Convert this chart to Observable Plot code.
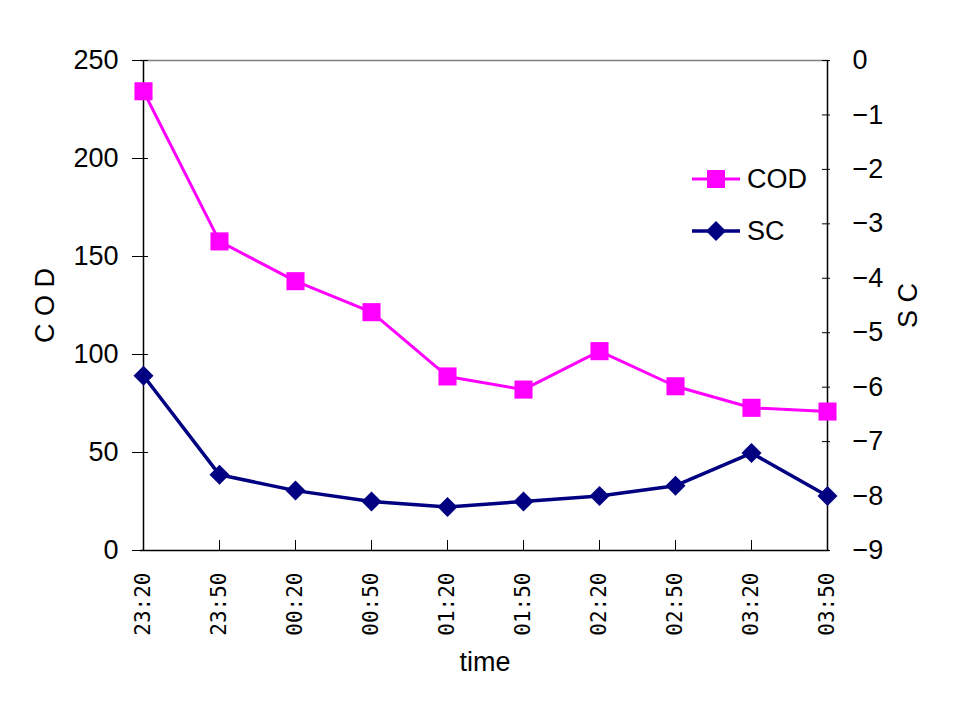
<!DOCTYPE html>
<html>
<head>
<meta charset="utf-8">
<script src="https://cdn.jsdelivr.net/npm/d3@7"></script>
<script src="https://cdn.jsdelivr.net/npm/@observablehq/plot@0.6"></script>
<style>
  html, body { margin: 0; padding: 0; background: #fff; }
  #wrap { position: relative; width: 960px; height: 720px; }
  #legend { position: absolute; left: 690px; top: 153px; font-family: "Liberation Sans", Arial, sans-serif; font-size: 27px; color: #000; }
  .item { display: flex; align-items: center; height: 52px; }
  .item svg { margin-right: 5px; }
</style>
</head>
<body>
<div id="wrap"><div id="legend"></div></div>
<script>
const times = ["23:20","23:50","00:20","00:50","01:20","01:50","02:20","02:50","03:20","03:50"];
const cod = [234.3, 157.7, 137.4, 121.6, 88.8, 82.1, 101.7, 83.8, 72.8, 70.9];
const sc = [-5.79, -7.61, -7.90, -8.10, -8.20, -8.10, -8.00, -7.81, -7.21, -8.00];
const codTicks = [0, 50, 100, 150, 200, 250];
const scTicks = [0, -1, -2, -3, -4, -5, -6, -7, -8, -9];
const codDomain = [0, 250];
const scDomain = [-9, 0];

const COD_COLOR = "#ff00ff";
const SC_COLOR = "#000080";
const sans = '"Liberation Sans", Arial, sans-serif';
const mono = '"DejaVu Sans Mono", monospace';

// map SC value onto the COD (left) scale
const scToCod = v => (v - scDomain[0]) / (scDomain[1] - scDomain[0]) * (codDomain[1] - codDomain[0]) + codDomain[0];
const codToSc = v => Math.round((v - codDomain[0]) / (codDomain[1] - codDomain[0]) * (scDomain[1] - scDomain[0]) + scDomain[0]);

const codData = times.map((t, i) => ({time: t, value: cod[i]}));
const scData = times.map((t, i) => ({time: t, value: scToCod(sc[i])}));
const scTickPos = scTicks.map(scToCod);

const fmtMinus = v => String(v).replace("-", "\u2212");

const chart = Plot.plot({
  width: 960,
  height: 720,
  marginLeft: 140,
  marginRight: 131,
  marginTop: 60,
  marginBottom: 170,
  style: {fontFamily: sans, fontSize: "27px", color: "#000", background: "transparent"},
  x: {type: "point", domain: times, padding: 0},
  y: {domain: codDomain},
  marks: [
    // frame
    Plot.ruleY([codDomain[1]], {stroke: "#808080", strokeWidth: 1.5}),
    Plot.ruleY([codDomain[0]], {stroke: "#000", strokeWidth: 1.5}),
    Plot.ruleX([times[0], times[times.length - 1]], {stroke: "#000", strokeWidth: 1.5}),
    // left axis ticks (crossing) and labels
    Plot.axisY(codTicks, {anchor: "left", tickSize: 16, dx: 8, tickFormat: () => "", label: null}),
    Plot.axisY(codTicks, {anchor: "left", tickSize: 0, tickPadding: 22, label: null, fontSize: 27, fontFamily: sans}),
    // right axis ticks (inward) and labels
    Plot.axisY(scTickPos, {anchor: "right", tickSize: 8, dx: -8, tickFormat: () => "", label: null}),
    Plot.axisY(scTickPos, {anchor: "right", tickSize: 0, tickPadding: 23, label: null, tickFormat: d => fmtMinus(codToSc(d)), fontSize: 27, fontFamily: sans}),
    // bottom ticks (inward) and rotated labels
    Plot.axisX({anchor: "bottom", tickSize: 10, dy: -10, tickFormat: () => "", label: null}),
    Plot.axisX({anchor: "bottom", tickSize: 0, tickPadding: 22, tickRotate: -90, label: null, fontSize: 21, fontFamily: mono}),
    // axis titles
    Plot.text(["C O D"], {frameAnchor: "left", textAnchor: "middle", dx: -95, rotate: -90, fontSize: 27, fontFamily: sans, fill: "#000"}),
    Plot.text(["S C"], {frameAnchor: "right", textAnchor: "middle", dx: 79, rotate: -90, fontSize: 27, fontFamily: sans, fill: "#000"}),
    Plot.text(["time"], {frameAnchor: "bottom", textAnchor: "middle", dy: 120, fontSize: 27, fontFamily: sans, fill: "#000"}),
    // series
    Plot.line(codData, {x: "time", y: "value", stroke: COD_COLOR, strokeWidth: 3}),
    Plot.dot(codData, {x: "time", y: "value", symbol: "square", r: 10.2, fill: COD_COLOR, stroke: "none"}),
    Plot.line(scData, {x: "time", y: "value", stroke: SC_COLOR, strokeWidth: 3.5}),
    Plot.dot(scData, {x: "time", y: "value", symbol: "diamond2", r: 9, fill: SC_COLOR, stroke: "none"})
  ]
});
document.getElementById("wrap").prepend(chart);

// legend
const legendItems = [
  {name: "COD", color: COD_COLOR, shape: "square"},
  {name: "SC", color: SC_COLOR, shape: "diamond"}
];
const legend = d3.select("#legend");
for (const it of legendItems) {
  const row = legend.append("div").attr("class", "item");
  const s = row.append("svg").attr("width", 52).attr("height", 30);
  s.append("line").attr("x1", 2).attr("x2", 50).attr("y1", 15).attr("y2", 15)
    .attr("stroke", it.color).attr("stroke-width", it.shape === "square" ? 3 : 3.5);
  if (it.shape === "square") {
    s.append("rect").attr("x", 17).attr("y", 6).attr("width", 18).attr("height", 18).attr("fill", it.color);
  } else {
    s.append("path").attr("d", "M26,5L36,15L26,25L16,15Z").attr("fill", it.color);
  }
  row.append("span").text(it.name);
}
</script>
</body>
</html>
